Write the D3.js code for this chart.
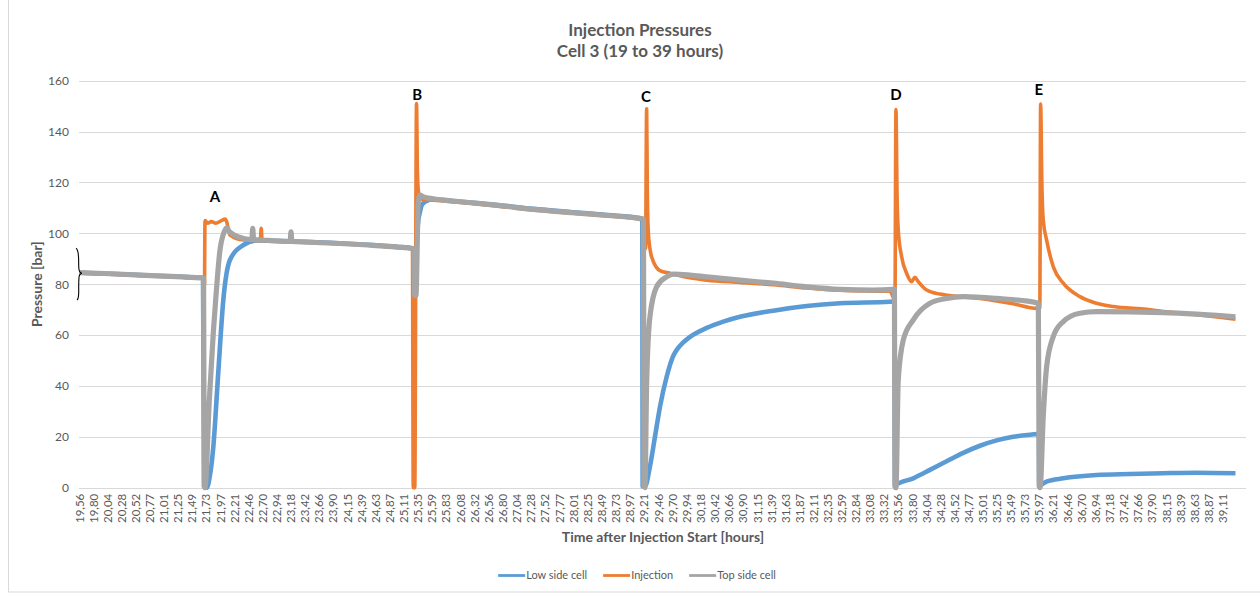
<!DOCTYPE html>
<html><head><meta charset="utf-8">
<script src="https://cdn.jsdelivr.net/npm/d3@7"></script>
<style>
html,body{margin:0;padding:0;background:#fff;}
svg{display:block;font-family:Lato,"Open Sans",sans-serif;}
</style></head><body><svg id="chart" width="1260" height="596"></svg>
<script>
// ---------- data ----------
const xTickLabels = ["19,56","19,80","20,04","20,28","20,52","20,77","21,01","21,25","21,49","21,73","21,97","22,21","22,46","22,70","22,94","23,18","23,42","23,66","23,90","24,15","24,39","24,63","24,87","25,11","25,35","25,59","25,83","26,08","26,32","26,56","26,80","27,04","27,28","27,52","27,77","28,01","28,25","28,49","28,73","28,97","29,21","29,46","29,70","29,94","30,18","30,42","30,66","30,90","31,15","31,39","31,63","31,87","32,11","32,35","32,59","32,84","33,08","33,32","33,56","33,80","34,04","34,28","34,52","34,77","35,01","35,25","35,49","35,73","35,97","36,21","36,46","36,70","36,94","37,18","37,42","37,66","37,90","38,15","38,39","38,63","38,87","39,11"];
const yTicks = [0,20,40,60,80,100,120,140,160];

// [time (hours), pressure (bar)]
const lowSide = [[19.56,84.5],[20.2,84.0],[20.8,83.4],[21.4,82.8],[21.68,82.4],[21.70,0.5],[21.743,0],[21.80,5],[21.856,16],[21.94,45],[22.027,73.8],[22.14,89.5],[22.37,95.4],[22.6,97.2],[23.2,96.8],[23.85,96.3],[24.5,95.5],[25.0,94.7],[25.26,94.1],[25.285,93.8],[25.30,77],[25.33,95],[25.36,105],[25.39,108.5],[25.418,111],[25.475,112.4],[25.616,113.4],[26.0,112.6],[26.757,111],[27.326,109.6],[28.0,108.3],[28.6,107.2],[29.15,106],[29.19,105.8],[29.196,0.5],[29.235,0.5],[29.32,8.3],[29.406,20],[29.492,31.8],[29.606,43.6],[29.719,51.8],[29.80,54.9],[29.89,57.1],[30.005,59.3],[30.29,62.8],[30.574,65.3],[30.86,67.2],[31.428,69.6],[32.0,71.4],[32.569,72.5],[33.424,73.1],[33.50,73.3],[33.509,0.5],[33.526,1.0],[33.822,3.7],[34.107,7.0],[34.392,10.4],[34.676,13.7],[34.962,16.5],[35.247,18.6],[35.53,20.0],[35.931,21.1],[35.97,21.2],[35.975,0.5],[35.99,0.8],[36.1,2.4],[36.386,3.7],[36.956,5],[37.526,5.4],[38.095,5.7],[38.666,5.9],[39.33,5.7]];

const injection = [[19.56,84.3],[20.2,83.8],[20.8,83.2],[21.4,82.6],[21.70,82.2],[21.705,79.5],[21.714,105],[21.76,104],[21.82,104.6],[21.9,104],[21.98,104.8],[22.06,105.6],[22.085,104.5],[22.14,99.3],[22.37,97.4],[22.66,97.2],[22.675,102],[22.69,97.2],[23.2,96.7],[23.85,96],[24.5,95.3],[25.0,94.4],[25.26,94],[25.274,0],[25.30,0],[25.33,151],[25.345,125],[25.36,117],[25.389,114],[25.45,113.2],[25.616,113],[26.0,112.3],[26.757,110.6],[27.326,109.2],[28.0,107.9],[28.6,106.8],[29.15,105.5],[29.235,104.8],[29.245,94],[29.264,149],[29.275,118],[29.291,101],[29.32,94],[29.377,89],[29.435,86.5],[29.492,85.3],[29.663,84.3],[30.0,82.5],[30.29,81.6],[30.86,80.7],[31.428,79.8],[32.0,78.5],[32.569,77.6],[33.0,77.3],[33.424,77.2],[33.509,73.8],[33.526,148.7],[33.545,115],[33.565,101.3],[33.623,90.8],[33.708,84.3],[33.793,81],[33.85,82.7],[33.907,81],[34.05,77.7],[34.278,76.1],[34.676,75],[34.962,74.4],[35.247,73.4],[35.53,72.3],[35.931,70.5],[35.985,70.5],[35.999,150.8],[36.02,120],[36.044,105.2],[36.102,97.3],[36.215,86.9],[36.386,80.4],[36.671,75.1],[36.956,72.5],[37.24,71.2],[37.811,70.1],[38.095,69.3],[38.666,68],[39.33,66.2]];

const topSide = [[19.56,84.6],[20.2,84.0],[20.8,83.4],[21.4,82.8],[21.69,82.4],[21.70,0.5],[21.714,0],[21.788,34.5],[21.856,61],[21.897,74],[21.97,93.4],[22.04,100.5],[22.085,102.2],[22.12,101],[22.2,99.5],[22.37,98],[22.515,97.6],[22.53,102],[22.545,97.5],[22.8,97.2],[23.17,96.8],[23.184,100.6],[23.2,96.8],[23.85,96.2],[24.5,95.4],[25.0,94.6],[25.26,94.0],[25.285,93.8],[25.30,75.5],[25.32,75.5],[25.36,112],[25.389,115],[25.45,114.3],[25.616,113.6],[26.0,112.6],[26.757,110.9],[27.326,109.4],[28.0,108.1],[28.6,107.0],[29.15,105.8],[29.21,105.5],[29.218,0.5],[29.235,0],[29.264,41],[29.32,67.2],[29.435,79],[29.606,82.9],[29.719,84],[30.005,83.6],[30.29,82.9],[30.86,81.6],[31.428,80.4],[32.0,79],[32.569,78],[33.14,77.7],[33.475,78],[33.50,78.2],[33.509,0.5],[33.526,0],[33.565,42.3],[33.65,58],[33.822,66],[34.107,72.5],[34.392,74.4],[34.676,75.1],[35.247,74.4],[35.931,72.7],[35.96,72.5],[35.975,0.5],[35.99,0],[36.044,27.9],[36.102,47.6],[36.215,59.4],[36.386,65.3],[36.671,68.6],[36.956,69.2],[38.095,68.8],[38.666,68.2],[39.33,67.2]];

const seriesNames = ["Low side cell","Injection","Top side cell"];
const seriesColors = ["#5B9BD5","#ED7D31","#A5A5A5"];
const eventLabels = ["A","B","C","D","E"];
const eventTimes = [21.885,25.34,29.254,33.526,35.97];
const eventValues = [112.2,152.4,151.6,152.4,154.3];

// ---------- layout ----------
const svg = d3.select("#chart");
const plot = {left:79, right:1246, top:80.7, bottom:487.7};
const x = d3.scaleLinear().domain([19.56,39.51]).range([plot.left, plot.right]);
const y = d3.scaleLinear().domain([0,160]).range([plot.bottom, plot.top]);
const textCol = "#595959";

// chart border
svg.append("rect").attr("x",8.5).attr("y",-1).attr("width",1260).attr("height",593)
  .attr("fill","none").attr("stroke","#d9d9d9").attr("stroke-width",1);

// gridlines
svg.append("g").selectAll("line").data(yTicks).join("line")
  .attr("x1",plot.left).attr("x2",plot.right)
  .attr("y1",d=>Math.round(y(d))+0.5).attr("y2",d=>Math.round(y(d))+0.5)
  .attr("stroke","#d9d9d9").attr("stroke-width",1);

// y axis labels
const yAxis = d3.axisLeft(y).tickValues(yTicks).tickSize(0).tickPadding(10);
const gy = svg.append("g").attr("transform",`translate(${plot.left},0)`).call(yAxis);
gy.select(".domain").remove();
gy.selectAll("text").attr("fill",textCol).style("font-size","12px").style("font-family","Lato");

// x axis labels
const xTickVals = xTickLabels.map(s=>+s.replace(",","."));
const xAxis = d3.axisBottom(x).tickValues(xTickVals).tickFormat((d,i)=>xTickLabels[i]).tickSize(0);
const gx = svg.append("g").attr("transform",`translate(0,${plot.bottom})`).call(xAxis);
gx.select(".domain").remove();
gx.selectAll("text")
  .attr("fill",textCol).style("font-size","11.5px").style("font-family","Lato")
  .attr("transform","rotate(-90)").attr("text-anchor","end")
  .attr("x",-6).attr("y",0).attr("dy","0.35em");

// axis titles
svg.append("text").attr("x",663).attr("y",542).attr("text-anchor","middle")
  .attr("fill",textCol).style("font-size","14px").style("font-weight","bold")
  .text("Time after Injection Start [hours]");
svg.append("text").attr("transform",`translate(42,${(plot.top+plot.bottom)/2}) rotate(-90)`)
  .attr("text-anchor","middle").attr("fill",textCol)
  .style("font-size","14px").style("font-weight","bold").text("Pressure [bar]");

// title
const title = svg.append("text").attr("text-anchor","middle").attr("fill",textCol)
  .style("font-size","17px").style("font-weight","bold");
title.append("tspan").attr("x",640).attr("y",36).text("Injection Pressures");
title.append("tspan").attr("x",640).attr("y",57).text("Cell 3 (19 to 39 hours)");

// series
const line = d3.line().x(d=>x(d[0])).y(d=>y(d[1])).curve(d3.curveMonotoneX);
const seriesData = [lowSide, injection, topSide];
const widths = [4.6,3.6,5.2];
svg.append("g").selectAll("path").data(seriesData).join("path")
  .attr("d",line).attr("fill","none")
  .attr("stroke",(d,i)=>seriesColors[i]).attr("stroke-width",(d,i)=>widths[i])
  .attr("stroke-linejoin","round").attr("stroke-linecap","butt");

// bracket near start
const bx = x(19.56);
const yt = y(94.1), ym = y(84.3), yb = y(73.8);
svg.append("path")
  .attr("d",`M${bx-3},${yt} C${bx+1},${yt+2} ${bx-1},${ym-9} ${bx},${ym-4} C${bx},${ym-1.5} ${bx+2},${ym} ${bx+3},${ym} C${bx+2},${ym} ${bx},${ym+1.5} ${bx},${ym+4} C${bx-1},${yb-9} ${bx+1},${yb-2} ${bx-2},${yb}`)
  .attr("fill","none").attr("stroke","#000").attr("stroke-width",1.1);

// event labels
svg.append("g").selectAll("text").data(eventLabels).join("text")
  .attr("x",(d,i)=>x(eventTimes[i])).attr("y",(d,i)=>y(eventValues[i]))
  .attr("text-anchor","middle").attr("fill","#000")
  .style("font-size","15px").style("font-weight","bold").text(d=>d);

// legend
const lg = svg.append("g");
let lx = 0;
seriesNames.forEach((n,i)=>{
  const g = lg.append("g").attr("transform",`translate(${lx},0)`);
  g.append("line").attr("x1",0).attr("x2",27).attr("y1",0).attr("y2",0)
    .attr("stroke",seriesColors[i]).attr("stroke-width",2.8);
  const t = g.append("text").attr("x",28).attr("y",0).attr("dy","0.35em")
    .attr("fill",textCol).style("font-size","11px").text(n);
  lx += 28 + t.node().getComputedTextLength() + 16;
});
const totalW = lx - 16;
lg.attr("transform",`translate(${637 - totalW/2},575.5)`);
</script></body></html>
